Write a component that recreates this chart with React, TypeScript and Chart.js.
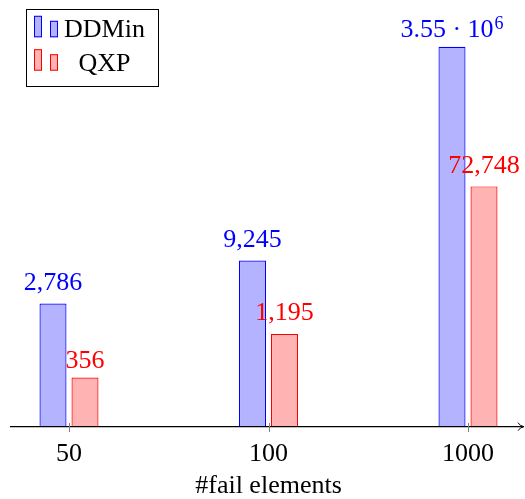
import React, { useEffect, useRef } from 'react';
import { Chart, registerables } from 'chart.js';

Chart.register(...registerables);

const categories = ['50', '100', '1000'];
const ddminValues = [2786, 9245, 3550000];
const qxpValues = [356, 1195, 72748];
const axisTitle = '#fail elements';
const seriesNames = ['DDMin', 'QXP'];

const FONT = 'Liberation Serif';
const BLUE = 'rgb(0,0,255)';
const BLUE_FILL = 'rgb(179,179,255)';
const RED = 'rgb(255,0,0)';
const RED_FILL = 'rgb(255,179,179)';

function formatLabel(v: number): { base: string; exp?: string } {
  if (v >= 1e6) {
    const e = Math.floor(Math.log10(v));
    const m = v / Math.pow(10, e);
    return { base: `${parseFloat(m.toFixed(2))} \u00B7 10`, exp: String(e) };
  }
  return { base: v.toLocaleString('en-US') };
}

export default function App() {
  const ref = useRef<HTMLCanvasElement>(null);

  useEffect(() => {
    const canvas = ref.current!;

    const overlay = {
      id: 'overlay',
      afterDatasetsDraw(ch: any) {
        const ctx = ch.ctx as CanvasRenderingContext2D;
        const area = ch.chartArea;
        const xs = ch.scales.x;
        ctx.save();

        // x axis line with arrow head
        const ay = area.bottom - 0.3;
        ctx.strokeStyle = '#000';
        ctx.lineWidth = 1.2;
        ctx.beginPath();
        ctx.moveTo(10, ay);
        ctx.lineTo(523, ay);
        ctx.stroke();
        ctx.beginPath();
        ctx.lineWidth = 1;
        ctx.moveTo(518, ay - 4);
        ctx.quadraticCurveTo(520, ay - 0.5, 524, ay);
        ctx.quadraticCurveTo(520, ay + 0.5, 518, ay + 4);
        ctx.stroke();

        // tick marks
        ctx.strokeStyle = 'rgb(128,128,128)';
        ctx.lineWidth = 1;
        for (let i = 0; i < categories.length; i++) {
          const px = Math.round(xs.getPixelForTick(i)) + 0.5;
          ctx.beginPath();
          ctx.moveTo(px, area.bottom - 4);
          ctx.lineTo(px, area.bottom + 5);
          ctx.stroke();
        }

        // value labels above bars
        ch.data.datasets.forEach((ds: any, di: number) => {
          const meta = ch.getDatasetMeta(di);
          meta.data.forEach((el: any, i: number) => {
            const lab = formatLabel(ds.data[i]);
            ctx.fillStyle = ds.borderColor;
            ctx.textBaseline = 'alphabetic';
            ctx.font = `26px ${FONT}`;
            const bm = ctx.measureText(lab.base);
            const descent = lab.base.includes(',') ? bm.actualBoundingBoxDescent : 0;
            const baseY = el.y - 9.5 - descent;
            if (lab.exp) {
              ctx.font = `18px ${FONT}`;
              const em = ctx.measureText(lab.exp);
              const total = bm.width + em.width + 1;
              const sx = el.x - total / 2;
              ctx.textAlign = 'left';
              ctx.font = `26px ${FONT}`;
              ctx.fillText(lab.base, sx, baseY);
              ctx.font = `18px ${FONT}`;
              ctx.fillText(lab.exp, sx + bm.width + 1, baseY - 8);
            } else {
              ctx.textAlign = 'center';
              ctx.fillText(lab.base, el.x, baseY);
            }
          });
        });

        // legend
        ctx.strokeStyle = '#000';
        ctx.lineWidth = 1;
        ctx.strokeRect(26.5, 9.5, 132, 77);
        const entries = [
          { name: seriesNames[0], fill: BLUE_FILL, stroke: BLUE, base: 37.3 },
          { name: seriesNames[1], fill: RED_FILL, stroke: RED, base: 70.7 },
        ];
        entries.forEach((en) => {
          ctx.fillStyle = en.fill;
          ctx.strokeStyle = en.stroke;
          ctx.lineWidth = 1;
          const tall = 21.5;
          const short = 16.5;
          ctx.fillRect(34, en.base - tall, 8, tall);
          ctx.strokeRect(34.5, en.base - tall + 0.5, 7, tall - 1);
          ctx.fillRect(50, en.base - short, 8, short);
          ctx.strokeRect(50.5, en.base - short + 0.5, 7, short - 1);
          ctx.fillStyle = '#000';
          ctx.font = `26px ${FONT}`;
          ctx.textAlign = 'center';
          ctx.textBaseline = 'alphabetic';
          ctx.fillText(en.name, 104.5, en.base);
        });

        ctx.restore();
      },
    };

    const chart = new Chart(canvas, {
      type: 'bar',
      data: {
        labels: categories,
        datasets: [
          { label: seriesNames[0], data: ddminValues, backgroundColor: BLUE_FILL, borderColor: BLUE, borderWidth: 1.2, clip: false as any },
          { label: seriesNames[1], data: qxpValues, backgroundColor: RED_FILL, borderColor: RED, borderWidth: 1.2, clip: false as any },
        ],
      },
      options: {
        animation: false,
        responsive: false,
        events: [],
        font: { family: FONT },
        layout: { padding: { left: 69, right: 57, top: 20, bottom: 0 } },
        datasets: { bar: { categoryPercentage: 64 / 199.5, barPercentage: 27 / 32 } },
        plugins: { legend: { display: false }, tooltip: { enabled: false }, title: { display: false } },
        scales: {
          x: {
            type: 'category',
            offset: false,
            grid: { display: false, drawTicks: false },
            border: { display: false },
            ticks: { color: '#000', font: { family: FONT, size: 26 }, padding: 12, maxRotation: 0, autoSkip: false },
            title: { display: true, text: axisTitle, color: '#000', font: { family: FONT, size: 26 }, padding: { top: 0, bottom: -3 } },
            afterFit: (s: any) => { s.height = 72; },
          },
          y: { type: 'logarithmic', display: false, min: 89.7, max: 7.48e6 },
        },
      },
      plugins: [overlay],
    } as any);

    return () => chart.destroy();
  }, []);

  return (
    <div style={{ position: 'absolute', left: 0, top: 0, width: 525, height: 499, background: '#fff' }}>
      <canvas ref={ref} width={525} height={499} />
    </div>
  );
}
